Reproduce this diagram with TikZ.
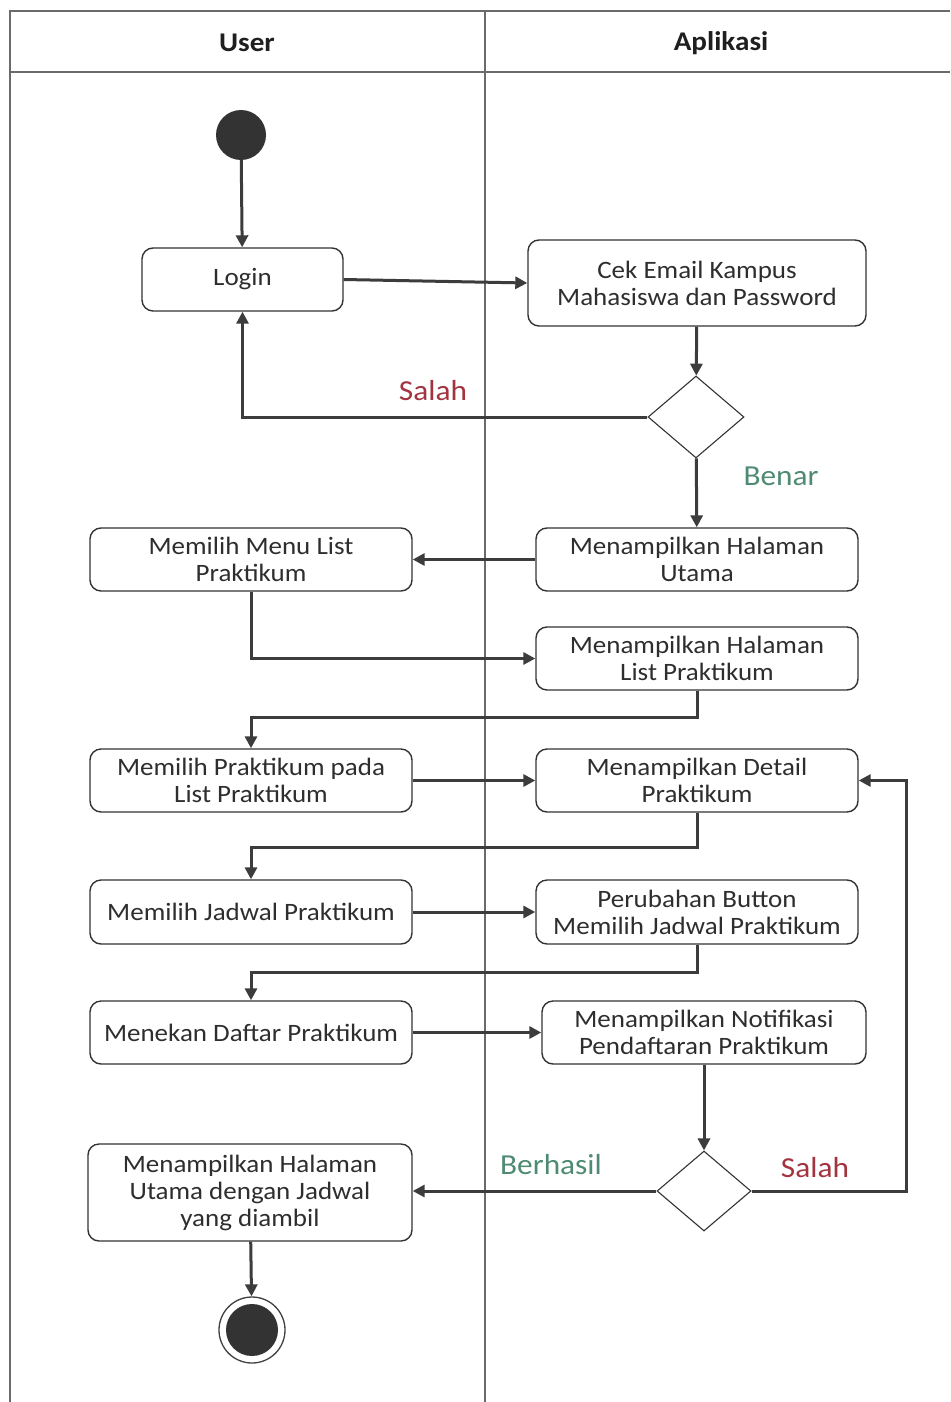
\documentclass[tikz,border=0pt]{standalone}
\usepackage{fontspec}
\setmainfont{Carlito}[FakeStretch=1.08]
\usetikzlibrary{shapes.geometric,arrows.meta}
\definecolor{lane}{HTML}{6A6A6A}
\definecolor{flow}{HTML}{3C3C3C}
\definecolor{edgecol}{HTML}{333333}
\definecolor{nored}{HTML}{A3343F}
\definecolor{yesgreen}{HTML}{4F8B73}
\tikzset{
  act/.style={draw=edgecol, line width=1.4pt, rounded corners=11pt, fill=white,
    align=center, font=\fontsize{25}{27}\selectfont, text=black!82,
    inner sep=0pt, anchor=center},
  decision/.style={draw=edgecol, line width=1.1pt, diamond, fill=white,
    minimum width=96pt, minimum height=82pt, inner sep=0pt},
  flowline/.style={draw=flow, line width=3pt, -{Triangle[length=12pt,width=12pt]}},
  lanehead/.style={font=\fontsize{27}{30}\selectfont\bfseries, text=black!88},
  guard/.style={font=\fontsize{29}{32}\selectfont},
}
\begin{document}
\begin{tikzpicture}[x=1pt,y=-1pt]
\useasboundingbox (0,0) rectangle (950,1402);
\fill[white] (0,0) rectangle (950,1402);
% swimlane frame
\draw[lane, line width=2.4pt] (10,1402) -- (10,11) -- (950,11);
\draw[lane, line width=2.4pt] (10,72) -- (950,72);
\draw[lane, line width=2.4pt] (485,11) -- (485,1402);
\node[lanehead] (hUser) at (247,43) {User};
\node[lanehead] (hApp) at (721,43) {Aplikasi};

% start / end
\node[circle, fill=black!80, minimum size=50pt, inner sep=0pt] (start) at (241,135) {};
\node[circle, draw=black!75, line width=1.3pt, minimum size=66pt, inner sep=0pt] (endo) at (252,1330) {};
\node[circle, fill=black!80, minimum size=52pt, inner sep=0pt] (endi) at (252,1330) {};

% activities
\node[act, minimum width=201pt, minimum height=63pt] (login) at (242.5,279.5) {Login};
\node[act, minimum width=338pt, minimum height=86pt] (cek) at (697,283) {Cek Email Kampus\\Mahasiswa dan Password};
\node[decision] (d1) at (696,417) {};
\node[act, minimum width=322pt, minimum height=63pt] (utama) at (697,559.5) {Menampilkan Halaman\\Utama};
\node[act, minimum width=322pt, minimum height=63pt] (menu) at (251,559.5) {Memilih Menu List\\Praktikum};
\node[act, minimum width=322pt, minimum height=63pt] (listp) at (697,658.5) {Menampilkan Halaman\\List Praktikum};
\node[act, minimum width=322pt, minimum height=63pt] (pilihp) at (251,780.5) {Memilih Praktikum pada\\List Praktikum};
\node[act, minimum width=322pt, minimum height=63pt] (detail) at (697,780.5) {Menampilkan Detail\\Praktikum};
\node[act, minimum width=322pt, minimum height=64pt] (jadwal) at (251,912) {Memilih Jadwal Praktikum};
\node[act, minimum width=322pt, minimum height=64pt] (ubah) at (697,912) {Perubahan Button\\Memilih Jadwal Praktikum};
\node[act, minimum width=322pt, minimum height=63pt] (daftar) at (251,1032.5) {Menekan Daftar Praktikum};
\node[act, minimum width=324pt, minimum height=63pt] (notif) at (704,1032.5) {Menampilkan Notifikasi\\Pendaftaran Praktikum};
\node[decision, minimum width=94pt, minimum height=80pt] (d2) at (704,1191) {};
\node[act, minimum width=324pt, minimum height=97pt] (hasil) at (250,1192.5) {Menampilkan Halaman\\Utama dengan Jadwal\\yang diambil};

% guard labels
\node[guard, text=nored] (g1) at (433,391) {Salah};
\node[guard, text=yesgreen] (g2) at (781,476) {Benar};
\node[guard, text=yesgreen] (g3) at (551,1165) {Berhasil};
\node[guard, text=nored] (g4) at (815,1168) {Salah};

% control flow
\draw[flowline] (start) -- (login);
\draw[flowline] (login.east) -- (cek.west);
\draw[flowline] (cek) -- (d1);
\draw[flowline] (d1.west) -| (login.south);
\draw[flowline] (d1) -- (utama);
\draw[flowline] (utama) -- (menu);
\draw[flowline] (menu.south) |- (listp.west);
\draw[flowline] (listp.south) -- ++(0,27) -| (pilihp.north);
\draw[flowline] (pilihp) -- (detail);
\draw[flowline] (detail.south) -- ++(0,35) -| (jadwal.north);
\draw[flowline] (jadwal) -- (ubah);
\draw[flowline] (ubah.south) -- ++(0,28) -| (daftar.north);
\draw[flowline] (daftar.east) -- (notif.west);
\draw[flowline] (notif) -- (d2);
\draw[flowline] (d2.west) -- (hasil.east |- d2.west);
\draw[flowline] (d2.east) -- (906,1191) |- (detail.east);
\draw[flowline] (hasil) -- (endo);
\end{tikzpicture}
\end{document}
